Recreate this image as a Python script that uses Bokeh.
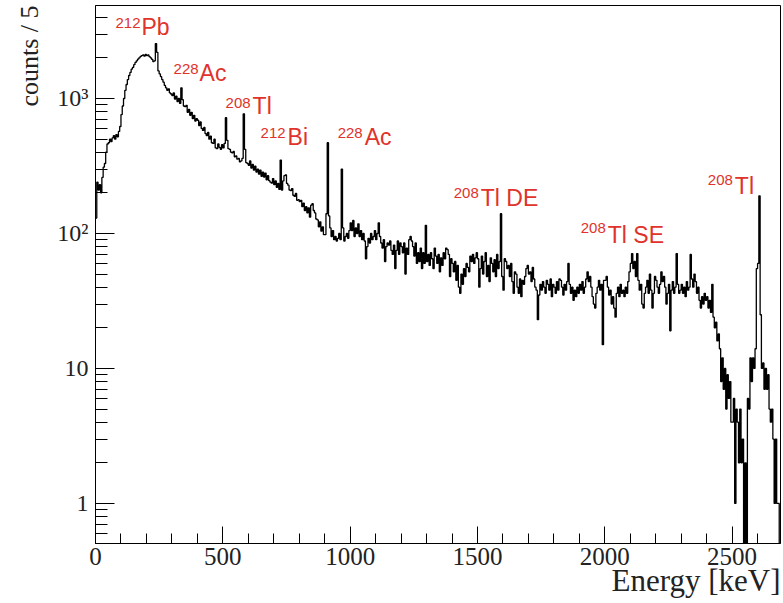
import numpy as np
from bokeh.plotting import figure
from bokeh.models import Range1d, FixedTicker, Label, Title
from bokeh.embed import file_html
from bokeh.resources import INLINE

# ---------------- data ----------------
bin_width = 5  # keV
counts = [
    130, 240, 210, 230, 200, 260, 310, 330, 400, 460, 470, 500, 480, 510, 530, 500, 540, 520, 570, 620,
    760, 880, 1000, 1150, 1270, 1380, 1480, 1560, 1650, 1700, 1780, 1850, 1900, 1960, 2000, 2050, 2080, 2100, 2060, 2120,
    2080, 2100, 2040, 2000, 1950, 1880, 1900, 2550, 2200, 1600, 1520, 1450, 1380, 1320, 1250, 1200, 1150, 1180, 1100, 1080,
    1050, 1100, 990, 1040, 950, 1000, 920, 1200, 980, 880, 870, 890, 790, 830, 750, 790, 710, 750, 680, 710,
    690, 630, 670, 600, 580, 610, 550, 530, 560, 500, 525, 470, 465, 500, 430, 425, 460, 435, 420, 455,
    430, 465, 720, 490, 425, 420, 400, 395, 405, 370, 375, 355, 360, 340, 345, 360, 770, 420, 335, 330,
    320, 345, 305, 325, 295, 315, 285, 300, 275, 295, 265, 285, 262, 280, 250, 268, 246, 240, 236, 255,
    230, 245, 220, 235, 212, 350, 210, 245, 268, 272, 235, 228, 210, 208, 215, 192, 188, 198, 176, 178,
    172, 176, 158, 168, 148, 158, 142, 155, 132, 162, 166, 148, 142, 128, 126, 112, 122, 104, 112, 98,
    98, 140, 470, 135, 110, 95, 105, 90, 95, 88, 92, 100, 90, 300, 110, 88, 95, 100, 92, 105,
    120, 105, 125, 95, 110, 100, 118, 95, 105, 90, 100, 88, 65, 80, 92, 85, 100, 90, 95, 105,
    90, 100, 120, 95, 85, 78, 90, 62, 80, 85, 82, 88, 75, 70, 82, 55, 75, 88, 70, 85,
    80, 72, 85, 50, 78, 70, 90, 95, 88, 80, 68, 85, 60, 72, 62, 78, 55, 72, 60, 115,
    62, 70, 58, 72, 65, 55, 78, 68, 60, 70, 52, 66, 58, 72, 65, 78, 76, 70, 48, 65,
    60, 52, 62, 45, 58, 40, 36, 50, 42, 55, 48, 60, 56, 52, 68, 62, 70, 60, 66, 72,
    65, 40, 55, 68, 50, 62, 72, 48, 58, 44, 66, 60, 52, 64, 48, 70, 55, 62, 140, 48,
    38, 65, 62, 55, 58, 48, 60, 44, 36, 52, 50, 40, 36, 46, 34, 45, 42, 48, 55, 58,
    50, 52, 44, 56, 46, 40, 38, 23, 35, 42, 38, 44, 40, 36, 45, 42, 38, 46, 34, 42,
    40, 36, 44, 38, 46, 45, 40, 35, 42, 38, 44, 60, 42, 36, 40, 32, 38, 34, 40, 36,
    42, 38, 44, 36, 40, 46, 52, 44, 48, 40, 34, 30, 28, 36, 40, 45, 38, 42, 15, 45,
    45, 48, 40, 35, 38, 30, 34, 28, 24, 36, 40, 34, 42, 36, 38, 34, 40, 36, 44, 52,
    60, 71, 55, 62, 48, 71, 45, 38, 42, 30, 28, 36, 40, 45, 36, 50, 38, 28, 36, 48,
    45, 40, 36, 42, 52, 44, 48, 40, 30, 36, 42, 19, 38, 44, 36, 40, 71, 42, 36, 38,
    42, 36, 40, 34, 44, 38, 40, 70, 46, 40, 50, 44, 36, 40, 32, 28, 34, 30, 36, 32,
    34, 28, 32, 26, 42, 24, 20, 22, 16, 18, 14, 8, 12, 7, 10, 5, 9, 6, 8, 4,
    4, 6, 1, 5, 4, 2, 5, 2, 3, 0, 2, 0, 6, 5, 12, 8, 12, 10, 14, 55,
    60, 190, 25, 10, 11, 7, 10, 7, 9, 5, 4, 5, 3, 1, 3, 1, 1, 0, 0, 0,
]

x_ticks = [0, 500, 1000, 1500, 2000, 2500]
y_ticks = [1, 10, 100, 1000]
y_tick_labels = {1: "1", 10: "10", 100: "10²", 1000: "10³"}

peak_iso = ["212", "228", "208", "212", "228", "208", "208", "208"]
peak_name = ["Pb", "Ac", "Tl", "Bi", "Ac", "Tl DE", "Tl SE", "Tl"]
iso_E = [78.6, 306.5, 510.8, 648.3, 950.9, 1406.7, 1905.7, 2404.7]
iso_v = [3650, 1665, 933, 559, 559, 201, 109, 247]
name_E = [180.7, 408.6, 616.9, 754.4, 1057, 1512.8, 2011.8, 2510.8]
name_v = [3360, 1532, 873, 515, 515, 182, 96.7, 223]

# ---------------- figure ----------------
p = figure(frame_width=685, frame_height=538,
           x_range=Range1d(0, 2690), y_range=Range1d(0.505, 4886),
           y_axis_type="log", output_backend="svg", toolbar_location=None,
           min_border_left=95, min_border_right=3, min_border_top=5, min_border_bottom=55)
p.background_fill_color = "white"
p.border_fill_color = "white"
p.xgrid.visible = False
p.ygrid.visible = False
p.outline_line_color = "black"
p.outline_line_width = 1

edges = np.arange(len(counts) + 1) * bin_width
vals = np.array(counts, dtype=float)
vals[vals <= 0] = 1e-3
xs = np.repeat(edges, 2)[1:-1]
ys = np.repeat(vals, 2)
p.line(xs, ys, line_color="black", line_width=1.3)

# axes
p.xaxis.ticker = FixedTicker(ticks=x_ticks, minor_ticks=list(range(0, 2700, 100)))
minor_y = [m * 10.0 ** k for k in range(-1, 4) for m in range(2, 10)]
p.yaxis.ticker = FixedTicker(ticks=y_ticks, minor_ticks=minor_y)
p.yaxis.major_label_overrides = y_tick_labels

for ax in (p.xaxis[0], p.yaxis[0]):
    ax.axis_line_color = "black"
    ax.axis_line_width = 1
    ax.major_tick_line_color = "black"
    ax.minor_tick_line_color = "black"
    ax.major_tick_out = 0
    ax.minor_tick_out = 0
    ax.major_label_text_font = "Liberation Serif"
    ax.major_label_text_color = "#222222"
    ax.major_label_text_font_style = "normal"

p.xaxis.major_tick_in = 17
p.xaxis.minor_tick_in = 10
p.yaxis.major_tick_in = 19
p.yaxis.minor_tick_in = 12
p.xaxis.major_label_text_font_size = "25px"
p.yaxis.major_label_text_font_size = "24px"
p.xaxis.major_label_standoff = 4
p.yaxis.major_label_standoff = 7

# axis titles (ROOT style: right aligned)
p.add_layout(Title(text="Energy [keV]", align="right", vertical_align="top",
                   standoff=-10, offset=0, text_font="Liberation Serif",
                   text_font_size="31px", text_font_style="normal",
                   text_color="#222222"), "below")
p.add_layout(Title(text="counts / 5", align="right", standoff=21,
                   text_font="Liberation Serif", text_font_size="26px",
                   text_font_style="normal", text_color="#222222"), "left")

# peak annotations
red = "#e0332b"
for iso, name, xe, yv, xn, yn in zip(peak_iso, peak_name, iso_E, iso_v, name_E, name_v):
    p.add_layout(Label(x=xe, y=yv, text=iso, text_align="left", text_baseline="alphabetic",
                       text_font="Liberation Sans", text_font_size="15px", text_color=red))
    p.add_layout(Label(x=xn, y=yn, text=name, text_align="left", text_baseline="alphabetic",
                       text_font="Liberation Sans", text_font_size="23px", text_color=red))

open("out.html", "w").write(file_html(p, INLINE))
